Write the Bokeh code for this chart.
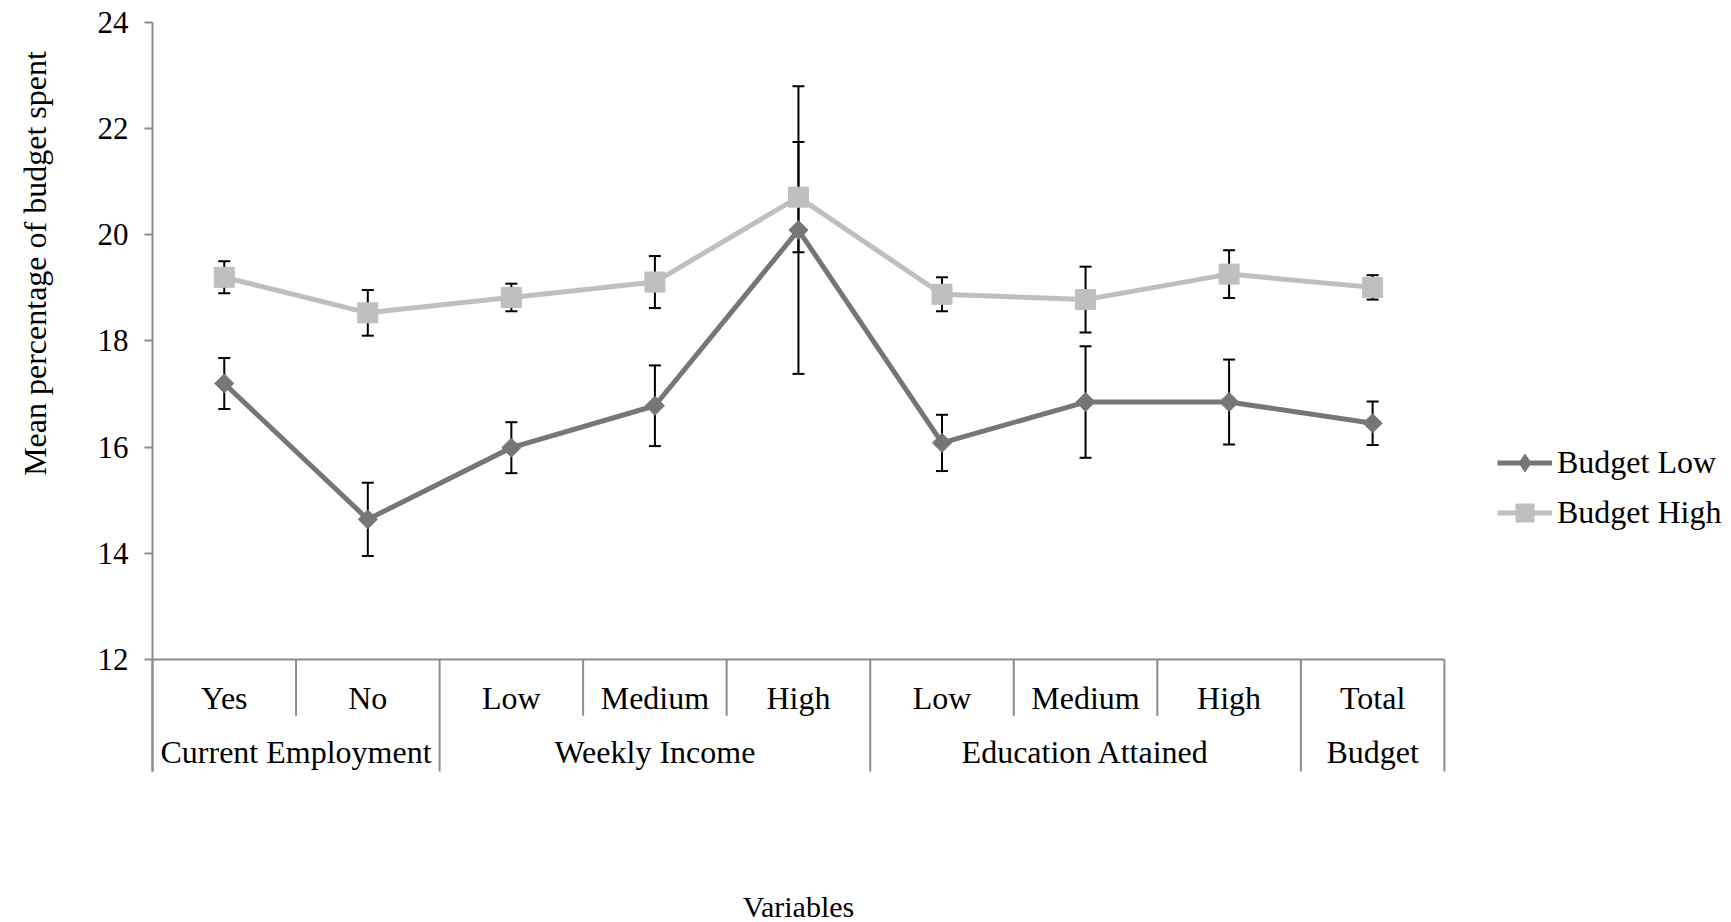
import numpy as np
from bokeh.plotting import figure
from bokeh.models import (ColumnDataSource, Range1d, FixedTicker, Whisker, TeeHead,
                          Legend, LegendItem)
from bokeh.embed import file_html
from bokeh.resources import INLINE
from bokeh.core.properties import value

# ---------------- data ----------------
categories = ["Yes", "No", "Low", "Medium", "High", "Low", "Medium", "High", "Total"]
groups = ["Current Employment", "Current Employment",
          "Weekly Income", "Weekly Income", "Weekly Income",
          "Education Attained", "Education Attained", "Education Attained",
          "Budget"]
budget_low = [17.20, 14.64, 15.99, 16.78, 20.09, 16.08, 16.85, 16.85, 16.45]
budget_low_err = [0.48, 0.69, 0.48, 0.76, 2.71, 0.53, 1.05, 0.80, 0.41]
budget_high = [19.20, 18.53, 18.82, 19.11, 20.71, 18.88, 18.78, 19.26, 19.01]
budget_high_err = [0.30, 0.43, 0.26, 0.49, 1.04, 0.32, 0.62, 0.45, 0.23]
y_ticks = [12, 14, 16, 18, 20, 22, 24]
y_label = "Mean percentage of budget spent"
x_label = "Variables"
series_names = ["Budget Low", "Budget High"]

# ---------------- styles / layout ----------------
FONT = "Liberation Serif"
FS = "32px"
AXIS_GRAY = "#8c8c8c"
DARK = "#767676"
LIGHT = "#bfbfbf"
# the frame covers the whole canvas; the value axis is pinned at x = 0
X_START, X_END = -1.0588, 11.0
Y_BOTTOM, Y_TOP = 7.045, 24.4145
AXIS_BOTTOM = 9.89   # bottom of the category table
ROW1_Y = 11.28
ROW2_Y = 10.25
ROW1_DIV = 10.94
XLABEL_Y = 7.35
YLABEL_X, YLABEL_Y = -0.815, 19.46

n = len(categories)
xs = np.arange(n) + 0.5

p = figure(width=1731, height=922, x_range=Range1d(X_START, X_END), y_range=Range1d(Y_BOTTOM, Y_TOP),
           output_backend="svg", toolbar_location=None, x_axis_location=None, title=None,
           min_border_left=0, min_border_right=0, min_border_top=0, min_border_bottom=0)
p.outline_line_color = None
p.grid.grid_line_color = None
p.background_fill_color = "white"

yax = p.yaxis[0]
yax.fixed_location = 0
yax.bounds = (AXIS_BOTTOM, y_ticks[-1])
yax.ticker = FixedTicker(ticks=y_ticks, minor_ticks=[])
yax.major_label_text_font = FONT
yax.major_label_text_font_size = "31px"
yax.major_label_text_color = "black"
yax.axis_line_color = AXIS_GRAY
yax.axis_line_width = 2
yax.major_tick_line_color = AXIS_GRAY
yax.major_tick_line_width = 2
yax.major_tick_out = 8
yax.major_tick_in = 0
yax.minor_tick_line_color = None
yax.major_label_standoff = 16

# y title
p.text(x=[YLABEL_X], y=[YLABEL_Y], text=[y_label], angle=np.pi / 2, text_font=value(FONT),
       text_font_size=value(FS), text_align="center", text_baseline="middle", text_color="black")

# category axis baseline
p.segment(x0=[0], y0=[y_ticks[0]], x1=[n], y1=[y_ticks[0]], line_color=AXIS_GRAY, line_width=2)

# dividers
short_x, long_x = [], []
for b in range(n + 1):
    if b == 0 or b == n or groups[b] != groups[b - 1]:
        long_x.append(b)
    else:
        short_x.append(b)
p.segment(x0=short_x, y0=[y_ticks[0]] * len(short_x), x1=short_x, y1=[ROW1_DIV] * len(short_x),
          line_color=AXIS_GRAY, line_width=2)
p.segment(x0=long_x, y0=[y_ticks[0]] * len(long_x), x1=long_x, y1=[AXIS_BOTTOM] * len(long_x),
          line_color=AXIS_GRAY, line_width=2)

# category labels
p.text(x=list(xs), y=[ROW1_Y] * n, text=categories, text_font=value(FONT),
       text_font_size=value(FS), text_align="center", text_baseline="middle", text_color="black")
group_names, group_centers = [], []
for a, b in zip(long_x[:-1], long_x[1:]):
    group_names.append(groups[a])
    group_centers.append((a + b) / 2)
p.text(x=group_centers, y=[ROW2_Y] * len(group_names), text=group_names, text_font=value(FONT),
       text_font_size=value(FS), text_align="center", text_baseline="middle", text_color="black")

# x title
p.text(x=[n / 2], y=[XLABEL_Y], text=[x_label], text_font=value(FONT),
       text_font_size=value("30px"), text_align="center", text_baseline="middle", text_color="black")

# error bars
for vals, errs in [(budget_low, budget_low_err), (budget_high, budget_high_err)]:
    src = ColumnDataSource(dict(x=list(xs),
                                upper=[v + e for v, e in zip(vals, errs)],
                                lower=[v - e for v, e in zip(vals, errs)]))
    w = Whisker(base="x", upper="upper", lower="lower", source=src,
                line_color="black", line_width=2,
                upper_head=TeeHead(size=12, line_color="black", line_width=2),
                lower_head=TeeHead(size=12, line_color="black", line_width=2))
    p.add_layout(w)

# series
l1 = p.line(list(xs), budget_low, line_color=DARK, line_width=5)
s1 = p.scatter(list(xs), budget_low, marker="square", angle=np.pi / 4, size=13.5,
               fill_color=DARK, line_color=DARK)
l2 = p.line(list(xs), budget_high, line_color=LIGHT, line_width=5)
s2 = p.scatter(list(xs), budget_high, marker="square", size=20,
               fill_color=LIGHT, line_color=LIGHT)
# legend-only diamond key (legend markers ignore the rotation angle); NaN point is never drawn
s1_key = p.scatter(x=[np.nan], y=[np.nan], marker="diamond", fill_color=DARK, line_color=DARK)

# legend location in screen px from the frame's bottom-left (frame = whole canvas)
legend = Legend(items=[LegendItem(label=series_names[0], renderers=[l1, s1_key]),
                       LegendItem(label=series_names[1], renderers=[l2, s2])],
                location=(1497, 387), label_text_font=FONT, label_text_font_size=FS,
                label_text_color="black", glyph_width=55, glyph_height=45, label_height=45,
                spacing=5, padding=0, margin=0, border_line_color=None,
                background_fill_alpha=0, label_standoff=5)
p.add_layout(legend, "center")

open("out.html", "w").write(file_html(p, INLINE))
